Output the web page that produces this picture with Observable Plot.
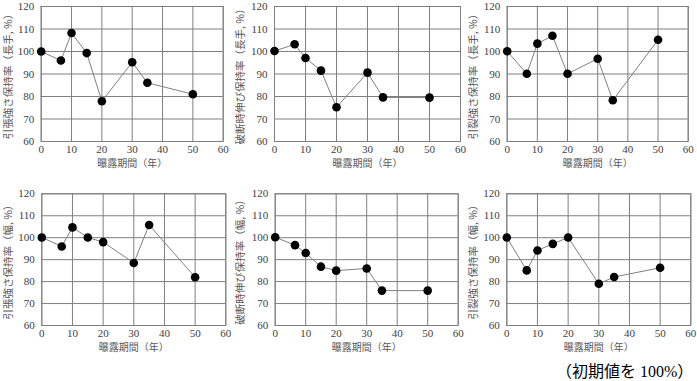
<!DOCTYPE html>
<html><head><meta charset="utf-8">
<script src="https://cdn.jsdelivr.net/npm/d3@7"></script>
<script src="https://cdn.jsdelivr.net/npm/@observablehq/plot@0.6"></script>
<style>
html,body{margin:0;padding:0;background:#fff;}
#wrap{position:relative;width:697px;height:381px;overflow:hidden;}
#wrap svg{position:absolute;}
#caption{position:absolute;left:556px;top:363px;line-height:17px;font-family:"Liberation Serif","Noto Sans CJK JP",serif;font-size:16px;color:#000;white-space:nowrap;}
</style></head>
<body><div id="wrap"><div id="caption">（初期値を 100%）</div></div>
<script>
const years = [0, 6.5, 10, 15, 20, 30, 35, 50];
const tensileLong = [100, 96, 108.2, 99.3, 77.9, 95.2, 86.1, 81];
const elongLong = [100.2, 103.2, 97.1, 91.5, 75.2, 90.6, 79.6, 79.5];
const tearLong = [100.1, 90.1, 103.5, 107, 90.1, 96.8, 78.3, 105.2];
const tensileWidth = [100.1, 96, 104.7, 100.1, 98, 88.5, 105.8, 82];
const elongWidth = [100.2, 96.6, 93, 86.8, 85, 86, 75.9, 75.9];
const tearWidth = [100.1, 85.1, 94.2, 97.2, 100.1, 79, 82.1, 86.3];
const yTitles = [
  "引張強さ保持率（長手, %）",
  "破断時伸び保持率（長手, %）",
  "引裂強さ保持率（長手, %）",
  "引張強さ保持率（幅, %）",
  "破断時伸び保持率（幅, %）",
  "引裂強さ保持率（幅, %）"
];
const xTitle = "曝露期間（年）";
const xTicks = [0, 10, 20, 30, 40, 50, 60];
const yTicks = [60, 70, 80, 90, 100, 110, 120];

const seriesList = [tensileLong, elongLong, tearLong, tensileWidth, elongWidth, tearWidth];
// layout: svg left, top, width, height, plot x0, x1, y0, y1
const layout = [
  [0, 0, 232, 172, 40.7, 222.7, 6, 141],
  [232, 0, 233, 172, 274, 460, 6, 141],
  [465, 0, 232, 172, 506.7, 687.7, 6, 141],
  [0, 180, 232, 176, 41.3, 225.3, 193.3, 325],
  [232, 180, 233, 176, 274.7, 457.7, 193.3, 325],
  [465, 180, 232, 176, 506.3, 690.3, 193.3, 325]
];
const gridColor = "#7f7f7f";
const wrap = document.getElementById("wrap");
seriesList.forEach((vals, i) => {
  const [L, T, W, H, x0, x1, y0, y1] = layout[i];
  const data = years.map((y, j) => ({year: y, value: vals[j]}));
  const ml = x0 - L, mr = L + W - x1, mt = y0 - T, mb = T + H - y1;
  const chart = Plot.plot({
    width: W, height: H,
    marginLeft: ml, marginRight: mr, marginTop: mt, marginBottom: mb,
    style: {fontFamily: "Liberation Serif, serif", fontSize: "11px", color: "#404040", background: "transparent", overflow: "visible"},
    x: {domain: [0, 60], ticks: xTicks},
    y: {domain: [60, 120], ticks: yTicks},
    marks: [
      Plot.gridX(xTicks, {stroke: gridColor, strokeOpacity: 1}),
      Plot.gridY(yTicks, {stroke: gridColor, strokeOpacity: 1}),
      Plot.frame({stroke: gridColor}),
      Plot.axisX(xTicks, {tickSize: 0, tickPadding: 4, label: null}),
      Plot.axisY(yTicks, {tickSize: 0, tickPadding: 7, label: null}),
      Plot.text([xTitle], {frameAnchor: "bottom", dy: 22, lineAnchor: "middle", fill: "#595959", fontSize: 10, fontFamily: "Noto Sans CJK JP, sans-serif"}),
      Plot.text([yTitles[i]], {frameAnchor: "left", dx: -(ml - 8), textAnchor: "middle", rotate: -90, lineAnchor: "middle", fill: "#595959", fontSize: 10.5, fontFamily: "Noto Sans CJK JP, sans-serif"}),
      Plot.line(data, {x: "year", y: "value", stroke: "#808080", strokeWidth: 1}),
      Plot.dot(data, {x: "year", y: "value", r: 4.3, fill: "#000", stroke: "none"})
    ]
  });
  chart.style.left = L + "px";
  chart.style.top = T + "px";
  wrap.appendChild(chart);
});
</script>
</body></html>
